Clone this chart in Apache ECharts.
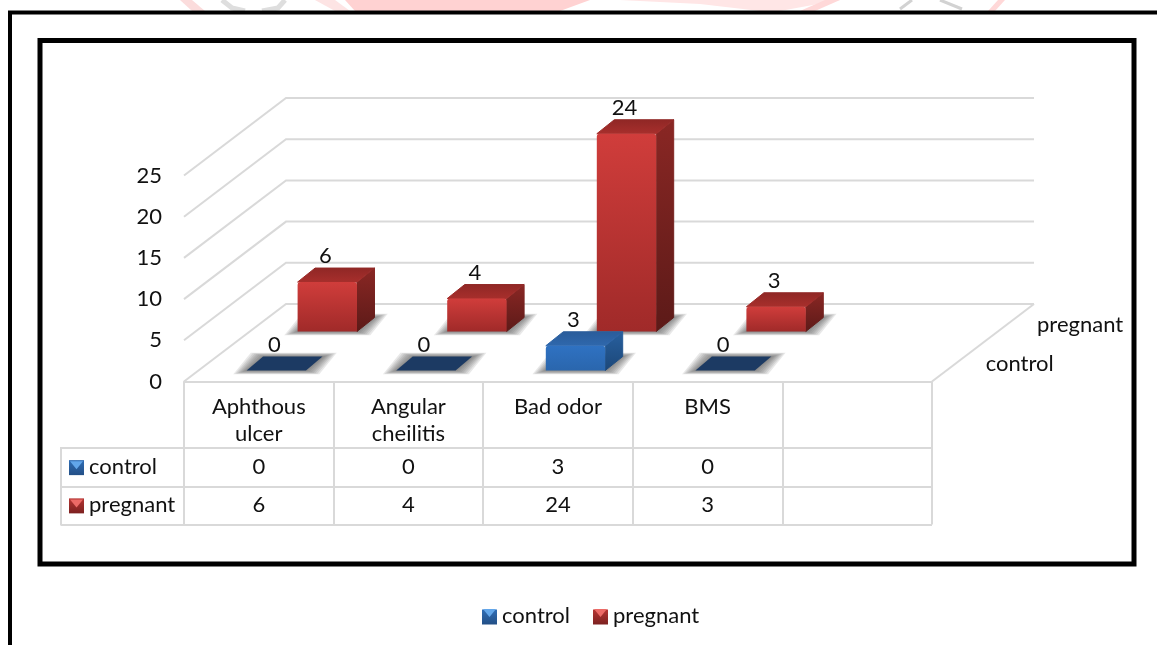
<!DOCTYPE html>
<html>
<head>
<meta charset="utf-8">
<style>html,body{margin:0;padding:0;background:#fff}#chart{width:1157px;height:645px}</style>
<script src="https://cdn.jsdelivr.net/npm/echarts@6/dist/echarts.min.js"></script>
</head>
<body>
<div id="chart"></div>
<script>
// Oral complaints by group
const categories = ['Aphthous\nulcer', 'Angular\ncheilitis', 'Bad odor', 'BMS', ''];
const tableColumns = [0, 1, 2, 3];
const seriesNames = ['control', 'pregnant'];
const control = [0, 0, 3, 0];
const pregnant = [6, 4, 24, 3];
const valueTicks = [0, 5, 10, 15, 20, 25];

const FONT = 'Lato';
const FS = 22;
const INK = '#111';
const LINE = '#d9d9d9';

// Oblique projection of the floor: how far each row sits behind the front edge
const WALL_DX = 102, WALL_DY = 77.5;
const ROW = {
  control: { dx: 17.5, dy: 11 },
  pregnant: { dx: 68.5, dy: 50 }
};
const BAR_DX = 17.5, BAR_DY = 14, BAR_RATIO = 0.397;

const PAL = {
  control: {
    front: ['#2f72c2', '#2a66ad'], top: ['#2f68ad', '#2a5c9a'], side: ['#28609f', '#1c4778'],
    swatch: ['#2f6db5', '#234f86'], glint: '#62a6ea'
  },
  pregnant: {
    front: ['#d03d3b', '#a02a29'], top: ['#a82f2c', '#8f2725'], side: ['#8a2724', '#5c1a18'],
    swatch: ['#b53533', '#7c2120'], glint: '#ec6a66'
  }
};
const FLAT = '#1c3a63';

const vGrad = (a, b) => new echarts.graphic.LinearGradient(0, 0, 0, 1, [
  { offset: 0, color: a }, { offset: 1, color: b }
]);

// Soft floor shadow: stacked translucent footprints, widest first
function floorShadow(x0, x1, yb) {
  const layers = [];
  for (let i = 7; i >= 0; i--) {
    const ex = i * 1.9, ey = i * 0.55;
    layers.push({
      type: 'polygon',
      shape: { points: [
        [x0 - ex, yb + ey], [x1 + ex, yb + ey],
        [x1 + BAR_DX + ex, yb - BAR_DY - ey], [x0 + BAR_DX - ex, yb - BAR_DY - ey]
      ] },
      style: { fill: 'rgba(80,80,80,0.13)' }
    });
  }
  return layers;
}

// One 3D column, with its floor shadow and its value label
function barRenderer(name) {
  const row = ROW[name], pal = PAL[name];
  return function (params, api) {
    const cat = api.value(0), val = api.value(1);
    const base = api.coord([cat, 0]);
    const head = api.coord([cat, val]);
    const w = api.size([1, 0])[0] * BAR_RATIO;
    const x0 = base[0] - w / 2 + row.dx, x1 = x0 + w;
    const yb = base[1] - row.dy;
    const yt = head[1] - row.dy;
    const kids = floorShadow(x0, x1, yb);
    if (val === 0) {
      kids.push({
        type: 'polygon',
        shape: { points: [[x0, yb], [x1, yb], [x1 + BAR_DX - 1, yb - BAR_DY], [x0 + BAR_DX - 1, yb - BAR_DY]] },
        style: { fill: FLAT }
      });
    } else {
      const sideFill = vGrad(pal.side[0], pal.side[1]);
      const topFill = vGrad(pal.top[1], pal.top[0]);
      kids.push({
        type: 'polygon',
        shape: { points: [[x1, yt], [x1 + BAR_DX, yt - BAR_DY], [x1 + BAR_DX, yb - BAR_DY], [x1, yb]] },
        style: { fill: sideFill, stroke: sideFill, lineWidth: 1, lineJoin: 'round' }
      }, {
        type: 'polygon',
        shape: { points: [[x0, yt], [x0 + BAR_DX, yt - BAR_DY], [x1 + BAR_DX, yt - BAR_DY], [x1, yt]] },
        style: { fill: topFill, stroke: topFill, lineWidth: 1, lineJoin: 'round' }
      }, {
        type: 'rect',
        shape: { x: x0, y: yt, width: w, height: yb - yt, r: [3, 3, 0, 0] },
        style: { fill: vGrad(pal.front[0], pal.front[1]) }
      });
    }
    kids.push({
      type: 'text',
      style: {
        text: String(val), x: x0 + w / 2 - 2, y: yt - BAR_DY - 12,
        align: 'center', verticalAlign: 'middle', font: FS + 'px ' + FONT, fill: INK
      }
    });
    return { type: 'group', children: kids };
  };
}

// Receding gridlines across side wall and back wall, plus the floor's right edge
function wallRenderer(params, api) {
  const v = api.value(1);
  const p = api.coord([0, v]);
  const left = api.coord([0, 0])[0] - api.size([1, 0])[0] / 2;
  const right = left + api.size([1, 0])[0] * categories.length;
  const kids = [{
    type: 'polyline',
    shape: { points: [[left, p[1]], [left + WALL_DX, p[1] - WALL_DY], [right + WALL_DX, p[1] - WALL_DY]] },
    style: { stroke: LINE, lineWidth: 2, fill: 'none' }
  }];
  if (v === 0) {
    kids.push({
      type: 'line',
      shape: { x1: right, y1: p[1], x2: right + WALL_DX, y2: p[1] - WALL_DY },
      style: { stroke: LINE, lineWidth: 2 }
    });
  }
  return { type: 'group', children: kids };
}

// Names of the depth rows, at the right edge of the floor
function depthLabelRenderer(params, api) {
  const name = seriesNames[params.dataIndex];
  const p = api.coord([0, 0]);
  const left = p[0] - api.size([1, 0])[0] / 2;
  const right = left + api.size([1, 0])[0] * categories.length;
  const yOff = name === 'control' ? 18 : 57;
  return {
    type: 'text',
    style: {
      text: name, x: right + yOff * WALL_DX / WALL_DY + 30, y: p[1] - yOff,
      align: 'left', verticalAlign: 'middle', font: FS + 'px ' + FONT, fill: INK
    }
  };
}

// Data-table cell
function cellRenderer(params, api) {
  const p = api.coord([api.value(0), api.value(1)]);
  return {
    type: 'text',
    style: {
      text: String(api.value(2)), x: p[0], y: p[1],
      align: 'center', verticalAlign: 'middle', font: FS + 'px ' + FONT, fill: INK
    }
  };
}

function swatchShapes(x, y, s, pal) {
  return [{
    type: 'rect', shape: { x, y, width: s, height: s },
    style: { fill: vGrad(pal.swatch[0], pal.swatch[1]) }
  }, {
    type: 'polygon',
    shape: { points: [[x + 1, y + 1], [x + s - 1, y + 1], [x + s / 2, y + s * 0.6]] },
    style: { fill: pal.glint }
  }];
}

// Legend key beside each row name of the data table
function tableKeyRenderer(params, api) {
  const name = seriesNames[api.value(0)];
  const p = api.coord([0, api.value(0)]);
  return { type: 'group', children: swatchShapes(69, p[1] - 7, 15, PAL[name]) };
}

const rows = seriesNames.map(n => (n === 'control' ? control : pregnant));
const cellData = [];
rows.forEach((vals, r) => tableColumns.forEach(c => cellData.push([c, r, vals[c]])));

const option = {
  animation: false,
  backgroundColor: '#fff',
  textStyle: { fontFamily: FONT },
  grid: [
    { left: 184, width: 748, top: 175.5, height: 206, show: false },
    { left: 184, width: 748, top: 448, height: 76.5, show: false }
  ],
  xAxis: [
    {
      type: 'category', gridIndex: 0, data: categories,
      axisLine: { lineStyle: { color: LINE, width: 2 } },
      axisTick: { show: true, length: 143, inside: false, lineStyle: { color: LINE, width: 2 } },
      axisLabel: {
        interval: 0, margin: 12, fontSize: FS, color: INK, fontFamily: FONT,
        lineHeight: 27, verticalAlign: 'top'
      }
    },
    {
      type: 'category', gridIndex: 1, data: categories,
      axisLine: { show: false }, axisTick: { show: false }, axisLabel: { show: false }
    }
  ],
  yAxis: [
    {
      type: 'value', gridIndex: 0, min: 0, max: 25, interval: 5,
      axisLine: { show: false }, axisTick: { show: false }, splitLine: { show: false },
      axisLabel: { margin: 22, fontSize: FS, color: INK, fontFamily: FONT, padding: [5, 0, 0, 0] }
    },
    {
      type: 'category', gridIndex: 1, data: seriesNames, inverse: true,
      axisLine: { show: false },
      axisTick: { show: true, length: 123, lineStyle: { color: LINE, width: 2 } },
      splitLine: { show: true, lineStyle: { color: LINE, width: 2 } },
      axisLabel: { margin: 95, align: 'left', fontSize: FS, color: INK, fontFamily: FONT }
    }
  ],
  legend: {
    left: 482, top: 605, padding: 0, itemWidth: 15, itemHeight: 15, itemGap: 23, icon: 'rect',
    selectedMode: false,
    formatter: '{t|{name}}',
    textStyle: {
      fontSize: FS, color: INK, fontFamily: FONT,
      rich: { t: { fontSize: FS, color: INK, fontFamily: FONT, padding: [0, 0, 2, 0] } }
    },
    data: seriesNames.map(n => ({
      name: n, itemStyle: { color: vGrad(PAL[n].swatch[0], PAL[n].swatch[1]) }
    }))
  },
  series: [
    {
      type: 'custom', name: 'walls', xAxisIndex: 0, yAxisIndex: 0, z: 1, silent: true,
      data: valueTicks.map(v => [0, v]), encode: { x: 0, y: 1 }, renderItem: wallRenderer
    },
    {
      type: 'custom', name: 'depth names', xAxisIndex: 0, yAxisIndex: 0, z: 1, silent: true,
      data: seriesNames.map(() => [0, 0]), encode: { x: 0, y: 1 }, renderItem: depthLabelRenderer
    },
    {
      type: 'custom', name: 'pregnant', xAxisIndex: 0, yAxisIndex: 0, z: 2,
      itemStyle: { color: PAL.pregnant.swatch[0] },
      data: pregnant.map((v, i) => [i, v]), encode: { x: 0, y: 1 }, renderItem: barRenderer('pregnant')
    },
    {
      type: 'custom', name: 'control', xAxisIndex: 0, yAxisIndex: 0, z: 3,
      itemStyle: { color: PAL.control.swatch[0] },
      data: control.map((v, i) => [i, v]), encode: { x: 0, y: 1 }, renderItem: barRenderer('control')
    },
    {
      type: 'custom', name: 'table cells', xAxisIndex: 1, yAxisIndex: 1, z: 4, silent: true,
      data: cellData, encode: { x: 0, y: 1 }, renderItem: cellRenderer
    },
    {
      type: 'custom', name: 'table keys', xAxisIndex: 1, yAxisIndex: 1, z: 4, silent: true,
      data: seriesNames.map((n, i) => [i]), encode: { y: 0 }, renderItem: tableKeyRenderer
    }
  ],
  graphic: [
    // Page rule and framing box
    { type: 'rect', z: 20, shape: { x: 10, y: 12.5, width: 1160, height: 660 }, style: { fill: 'none', stroke: '#000', lineWidth: 4 } },
    { type: 'rect', z: 20, shape: { x: 40, y: 40.5, width: 1094, height: 523.5 }, style: { fill: 'none', stroke: '#000', lineWidth: 5 } },
    // Left edge of the data table
    { type: 'line', z: 5, shape: { x1: 61, y1: 447, x2: 61, y2: 525.5 }, style: { stroke: LINE, lineWidth: 2 } },
    // Faint letterhead fragment above the page rule
    { type: 'polygon', z: 0, shape: { points: [[345, 0], [590, 0], [560, 11], [355, 11]] }, style: { fill: '#ffd2d2' } },
    { type: 'polygon', z: 0, shape: { points: [[180, 0], [192, 0], [205, 11], [192, 11]] }, style: { fill: '#fbdcdc' } },
    { type: 'polygon', z: 0, shape: { points: [[315, 0], [335, 0], [350, 11], [335, 11]] }, style: { fill: '#fde4e4' } },
    { type: 'polygon', z: 0, shape: { points: [[620, 0], [840, 0], [780, 11], [760, 11], [700, 4]] }, style: { fill: '#ffe6e6' } },
    { type: 'polygon', z: 0, shape: { points: [[825, 0], [840, 0], [815, 11], [800, 11]] }, style: { fill: '#ffd8d8' } },
    { type: 'polygon', z: 0, shape: { points: [[998, 0], [1005, 0], [995, 11], [988, 11]] }, style: { fill: '#ffd8d8' } },
    { type: 'polyline', z: 0, shape: { points: [[222, 0], [232, 8], [245, 11]] }, style: { stroke: '#dedede', lineWidth: 5, fill: 'none' } },
    { type: 'polyline', z: 0, shape: { points: [[285, 0], [278, 8], [262, 11]] }, style: { stroke: '#dedede', lineWidth: 5, fill: 'none' } },
    { type: 'line', z: 0, shape: { x1: 940, y1: 0, x2: 962, y2: 9 }, style: { stroke: '#d2d2d2', lineWidth: 3 } },
    { type: 'line', z: 0, shape: { x1: 912, y1: 0, x2: 900, y2: 9 }, style: { stroke: '#d2d2d2', lineWidth: 3 } },
    // Bevel glints on the legend keys
    { type: 'polygon', z: 10, shape: { points: [[483, 609], [496, 609], [489.5, 617]] }, style: { fill: PAL.control.glint } },
    { type: 'polygon', z: 10, shape: { points: [[594, 609], [607, 609], [600.5, 617]] }, style: { fill: PAL.pregnant.glint } }
  ]
};

echarts.init(document.getElementById('chart'), null, { renderer: 'canvas' }).setOption(option);
</script>
</body>
</html>
